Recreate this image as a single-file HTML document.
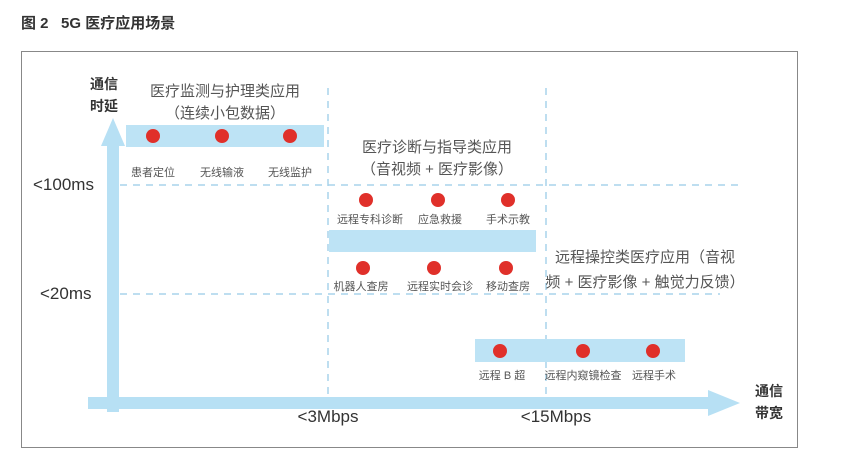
<!DOCTYPE html>
<html><head><meta charset="utf-8"><style>
html,body{margin:0;padding:0;background:#fff;}
body{width:846px;height:466px;position:relative;overflow:hidden;font-family:"Liberation Sans","Noto Sans CJK SC",sans-serif;}
.t{position:absolute;white-space:nowrap;}
.c{transform:translateX(-50%);}
</style></head><body>
<div class="t" style="left:21px;top:12px;font-size:15px;font-weight:bold;color:#333;">图 2&nbsp;&nbsp; 5G 医疗应用场景</div>
<svg width="846" height="466" style="position:absolute;left:0;top:0">
<rect x="21.5" y="51.5" width="776" height="396" fill="none" stroke="#888" stroke-width="1"/>
<g stroke="#a8d4ec" stroke-width="1.5" stroke-dasharray="7,6" fill="none">
<line x1="120" y1="185" x2="740" y2="185"/>
<line x1="120" y1="294" x2="720" y2="294"/>
<line x1="328" y1="88" x2="328" y2="400"/>
<line x1="546" y1="88" x2="546" y2="400"/>
</g>
<rect x="107" y="142" width="12" height="270" fill="#b7e0f4"/>
<polygon points="113,118 101,146 125,146" fill="#b7e0f4"/>
<rect x="88" y="397" width="625" height="12" fill="#b7e0f4"/>
<polygon points="740,403 708,390 708,416" fill="#b7e0f4"/>
<rect x="126" y="125" width="198" height="22" fill="#bde3f5"/>
<rect x="329" y="230" width="207" height="22" fill="#bde3f5"/>
<rect x="475" y="339" width="210" height="23" fill="#bde3f5"/>
<g fill="#e0302a">
<circle cx="153" cy="136" r="7"/><circle cx="222" cy="136" r="7"/><circle cx="290" cy="136" r="7"/>
<circle cx="366" cy="200" r="7"/><circle cx="438" cy="200" r="7"/><circle cx="508" cy="200" r="7"/>
<circle cx="363" cy="268" r="7"/><circle cx="434" cy="268" r="7"/><circle cx="506" cy="268" r="7"/>
<circle cx="500" cy="351" r="7"/><circle cx="583" cy="351" r="7"/><circle cx="653" cy="351" r="7"/>
</g>
</svg>
<div class="t" style="left:90px;top:73px;font-size:14px;font-weight:bold;color:#333;line-height:22px;">通信<br>时延</div>
<div class="t" style="left:755px;top:380px;font-size:14px;font-weight:bold;color:#333;line-height:22px;">通信<br>带宽</div>
<div class="t" style="left:33px;top:175px;font-size:17px;color:#333;">&lt;100ms</div>
<div class="t" style="left:40px;top:284px;font-size:17px;color:#333;">&lt;20ms</div>
<div class="t c" style="left:328px;top:407px;font-size:17px;color:#333;">&lt;3Mbps</div>
<div class="t c" style="left:556px;top:407px;font-size:17px;color:#333;">&lt;15Mbps</div>
<div class="t c" style="left:225px;top:81px;font-size:15px;color:#555;line-height:22px;text-align:center;">医疗监测与护理类应用<br>（连续小包数据）</div>
<div class="t c" style="left:437px;top:137px;font-size:15px;color:#555;line-height:22px;text-align:center;">医疗诊断与指导类应用<br>（音视频 + 医疗影像）</div>
<div class="t c" style="left:645px;top:245px;font-size:15px;color:#555;line-height:25px;text-align:center;">远程操控类医疗应用（音视<br>频 + 医疗影像 + 触觉力反馈）</div>
<div style="font-size:11px;color:#555;">
<div class="t c" style="left:153px;top:164px;">患者定位</div>
<div class="t c" style="left:222px;top:164px;">无线输液</div>
<div class="t c" style="left:290px;top:164px;">无线监护</div>
<div class="t c" style="left:370px;top:211px;">远程专科诊断</div>
<div class="t c" style="left:440px;top:211px;">应急救援</div>
<div class="t c" style="left:508px;top:211px;">手术示教</div>
<div class="t c" style="left:361px;top:278px;">机器人查房</div>
<div class="t c" style="left:440px;top:278px;">远程实时会诊</div>
<div class="t c" style="left:508px;top:278px;">移动查房</div>
<div class="t c" style="left:502px;top:367px;">远程 B 超</div>
<div class="t c" style="left:583px;top:367px;">远程内窥镜检查</div>
<div class="t c" style="left:654px;top:367px;">远程手术</div>
</div>
</body></html>
